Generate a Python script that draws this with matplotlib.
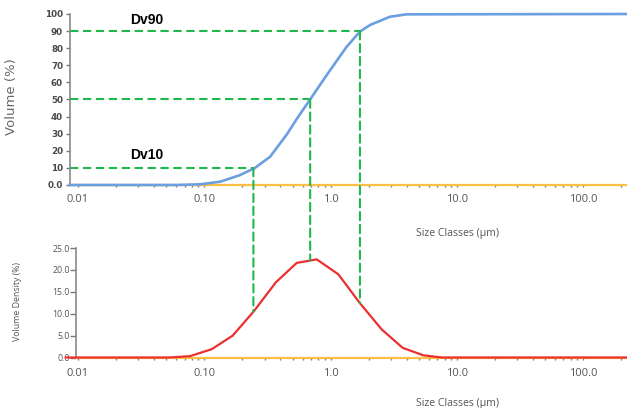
import numpy as np
import matplotlib
matplotlib.use("Agg")
import matplotlib.pyplot as plt
from matplotlib.patches import ConnectionPatch
from matplotlib.ticker import FixedLocator, NullFormatter

# Cumulative volume undersize (%) against particle size (µm)
cum_sizes = [0.0086, 0.060, 0.0924, 0.1334, 0.192, 0.252, 0.332, 0.450, 0.55,
             0.689, 0.933, 1.34, 1.71, 2.06, 2.96, 4.0, 250.0]
cumulative_volume = [0.0, 0.0, 0.4, 1.9, 5.8, 10.0, 16.5, 29.5, 39.5,
                     50.0, 64.3, 80.8, 89.7, 93.6, 98.4, 99.8, 100.0]

# Volume density (%) per size class (µm)
size_classes = [0.008, 0.0526, 0.077, 0.1146, 0.168, 0.2477, 0.370, 0.540,
                0.778, 1.153, 1.71, 2.545, 3.73, 5.43, 7.6, 250.0]
volume_density = [0.0, 0.0, 0.3, 1.9, 5.0, 10.6, 17.2, 21.6,
                  22.4, 19.0, 12.4, 6.4, 2.2, 0.5, 0.0, 0.0]

# Percentile diameters (µm) and their cumulative levels
dv_labels = ["Dv10", "Dv50", "Dv90"]
dv_levels = [10, 50, 90]
dv_sizes = [0.245, 0.69, 1.71]

x_major = [0.01, 0.1, 1.0, 10.0, 100.0]
x_major_labels = ["0.01", "0.10", "1.0", "10.0", "100.0"]
top_yticks = [0, 10, 20, 30, 40, 50, 60, 70, 80, 90, 100]
top_ylabels = ["0.0", "10", "20", "30", "40", "50", "60", "70", "80", "90", "100"]
bot_yticks = [0, 5, 10, 15, 20, 25]
bot_ylabels = ["0.0", "5.0", "10.0", "15.0", "20.0", "25.0"]

BLUE = "#6b9fe0"
RED = "#ec2f2f"
ORANGE = "#ffbf45"
GREEN = "#1fb84a"
GREY = "#555555"

W, H = 627, 408
fig = plt.figure(figsize=(W / 100, H / 100), dpi=100)
ax1 = fig.add_axes([70 / W, 1 - 185 / H, 557 / W, 171 / H])
ax2 = fig.add_axes([76 / W, 1 - 357.5 / H, 551 / W, 109.5 / H])

minor = [m * 10.0 ** e for e in range(-2, 3) for m in range(2, 10)]

for ax in (ax1, ax2):
    ax.set_xscale("log")
    ax.xaxis.set_major_locator(FixedLocator(x_major))
    ax.xaxis.set_minor_locator(FixedLocator(minor))
    ax.xaxis.set_minor_formatter(NullFormatter())
    ax.set_xticklabels(x_major_labels, fontsize=8, color=GREY, family="Open Sans")
    ax.tick_params(axis="x", which="both", length=1.5, width=1, color="#777777", pad=5)
    for s in ("top", "right"):
        ax.spines[s].set_visible(False)
    ax.spines["bottom"].set_color(ORANGE)
    ax.spines["bottom"].set_linewidth(1.6)
    ax.spines["left"].set_color("#8a8a8a")
    ax.spines["left"].set_linewidth(1.2)
    ax.set_facecolor("none")

ax1.set_xlim(0.00864, 223)
ax2.set_xlim(0.00964, 223)

# Cumulative volume curve
ax1.plot(cum_sizes, cumulative_volume, color=BLUE, lw=1.9, zorder=3, clip_on=False,
         solid_joinstyle="round")
ax1.set_ylim(0, 100)
ax1.set_yticks(top_yticks)
ax1.set_yticklabels(top_ylabels, fontsize=6.3, color="#4a4a4a", family="DejaVu Sans",
                    fontweight="bold")
ax1.tick_params(axis="y", length=3, width=1, color="#777777", pad=2)
ax1.set_ylabel("Volume (%)", fontsize=9.5, color="#666666", family="DejaVu Sans")
ax1.yaxis.set_label_coords(-0.0934, 0.515)
ax1.set_xlabel("Size Classes (µm)", fontsize=7.6, color=GREY, family="Open Sans")
ax1.xaxis.set_label_coords(0.695, -0.251)

# Volume density curve
ax2.plot(size_classes, volume_density, color=RED, lw=1.6, zorder=3, clip_on=False,
         solid_joinstyle="round")
ax2.set_ylim(0, 25)
ax2.set_yticks(bot_yticks)
ax2.set_yticklabels(bot_ylabels, fontsize=6.3, color=GREY, family="Open Sans")
ax2.tick_params(axis="y", length=4, width=1, color="#777777", pad=0.5)
ax2.set_ylabel("Volume Density (%)", fontsize=6.3, color=GREY, family="Open Sans")
ax2.yaxis.set_label_coords(-0.098, 0.507)
ax2.set_xlabel("Size Classes (µm)", fontsize=7.6, color=GREY, family="Open Sans")
ax2.xaxis.set_label_coords(0.6915, -0.37)
ax2.tick_params(axis="x", pad=6)

# Percentile guide lines: horizontal on the cumulative plot, vertical down to the density curve
lw_g = 1.5
dash = (0, (4.0, 2.2))
xmin = ax1.get_xlim()[0]
log_x = np.log10(size_classes)
for lvl, d in zip(dv_levels, dv_sizes):
    ax1.plot([xmin, d], [lvl, lvl], color=GREEN, lw=lw_g, linestyle=dash, zorder=2)
    dens = np.interp(np.log10(d), log_x, volume_density)
    con = ConnectionPatch(xyA=(d, lvl), coordsA=ax1.transData,
                          xyB=(d, dens), coordsB=ax2.transData,
                          color=GREEN, lw=lw_g, linestyle=dash, zorder=2)
    fig.add_artist(con)

# Percentile annotations
ax1.text(0.1077, 0.965, dv_labels[2], transform=ax1.transAxes, fontsize=10,
         fontweight="bold", family="Liberation Sans", va="center", ha="left")
ax1.text(0.1077, 0.175, dv_labels[0], transform=ax1.transAxes, fontsize=10,
         fontweight="bold", family="Liberation Sans", va="center", ha="left")

fig.savefig("out.png", dpi=100)
